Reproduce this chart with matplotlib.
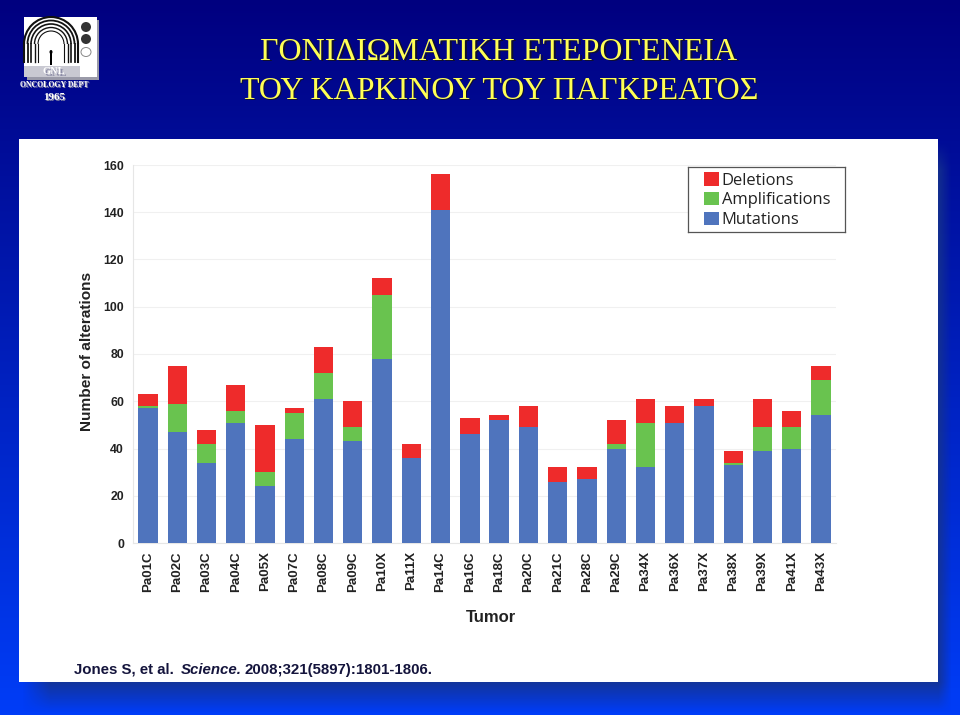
import numpy as np
import matplotlib
matplotlib.use('Agg')
from matplotlib import pyplot as plt
from matplotlib.patches import Rectangle, Arc, Ellipse

tumors = ['Pa01C', 'Pa02C', 'Pa03C', 'Pa04C', 'Pa05X', 'Pa07C', 'Pa08C', 'Pa09C',
          'Pa10X', 'Pa11X', 'Pa14C', 'Pa16C', 'Pa18C', 'Pa20C', 'Pa21C', 'Pa28C',
          'Pa29C', 'Pa34X', 'Pa36X', 'Pa37X', 'Pa38X', 'Pa39X', 'Pa41X', 'Pa43X']
mutations = [57, 47, 34, 51, 24, 44, 61, 43, 78, 36, 141, 46, 52, 49, 26, 27, 40, 32, 51, 58, 33, 39, 40, 54]
amplifications = [1, 12, 8, 5, 6, 11, 11, 6, 27, 0, 0, 0, 0, 0, 0, 0, 2, 19, 0, 0, 1, 10, 9, 15]
deletions = [5, 16, 6, 11, 20, 2, 11, 11, 7, 6, 15, 7, 2, 9, 6, 5, 10, 10, 7, 3, 5, 12, 7, 6]
y_ticks = [0, 20, 40, 60, 80, 100, 120, 140, 160]
title_lines = ['ΓΟΝΙΔΙΩΜΑΤΙΚΗ ΕΤΕΡΟΓΕΝΕΙΑ', 'ΤΟΥ ΚΑΡΚΙΝΟΥ ΤΟΥ ΠΑΓΚΡΕΑΤΟΣ']

W, H = 960, 715
SANS = 'Liberation Sans'
SERIF = 'Liberation Serif'
INK = '#14143c'


def px_axes(fig, left, top, right, bottom, **kw):
    # axes from pixel edges, y counted from the top of the picture
    return fig.add_axes([left / W, 1 - bottom / H, (right - left) / W, (bottom - top) / H], **kw)


fig = plt.figure(figsize=(9.6, 7.15), dpi=100)

# blue slide background
bg = fig.add_axes([0, 0, 1, 1], zorder=0)
bg.set_axis_off()
ramp = np.linspace(0, 1, 256)[:, None]
rgb = np.dstack([0 * ramp, 0.0 + 0.24 * ramp, 0.5 + 0.47 * ramp])
bg.imshow(rgb, aspect='auto', extent=[0, W, H, 0])

# soft shadow right of and under the white panel
sx = np.arange(19, 952)
sy = np.arange(139, 714)
fade_x = np.clip(1 - (sx - 938) / 13, 0, 1) * np.clip((sx - 22) / 28, 0, 1)
fade_y = np.clip(1 - (sy - 682) / 30, 0, 1) * np.clip((sy - 142) / 28, 0, 1)
shadow = np.zeros((len(sy), len(sx), 4))
shadow[..., 0] = 0.09
shadow[..., 1] = 0.2
shadow[..., 2] = 0.55
shadow[..., 3] = 0.85 * fade_y[:, None] * fade_x[None, :]
bg.imshow(shadow, aspect='auto', extent=[19, 952, 714, 139], zorder=1)
bg.set_xlim(0, W)
bg.set_ylim(H, 0)

bg.add_patch(Rectangle((19, 139), 919, 543, fc='white', ec='none', zorder=3))

# titles, yellow with a dark drop shadow
for line, yy in zip(title_lines, [60, 99]):
    bg.text(500.2, yy + 1.2, line, family=SERIF, fontsize=23, color='#101030', ha='center', va='baseline', zorder=4)
    bg.text(499, yy, line, family=SERIF, fontsize=23, color='#ffff55', ha='center', va='baseline', zorder=5)

# logo
bg.add_patch(Rectangle((27, 20), 72, 60, fc='#9a9aa8', ec='none', zorder=4))
bg.add_patch(Rectangle((24, 17), 73, 60, fc='white', ec='none', zorder=5))
for r, lw in zip([27, 23.5, 20, 16.5, 13], [1.5, 1.3, 1.2, 1.0, 0.8]):
    bg.add_patch(Arc((51, 44), 2 * r, 2 * r, theta1=180, theta2=360, color='#111111', lw=lw, zorder=6))
    bg.plot([51 - r, 51 - r], [44, 62], color='#111111', lw=lw, zorder=6)
    bg.plot([51 + r, 51 + r], [44, 62], color='#111111', lw=lw, zorder=6)
bg.add_patch(Rectangle((24, 66), 56, 11, fc='#c9c9d2', ec='none', zorder=7))
bg.add_patch(Ellipse((51, 52), 3, 4, fc='black', zorder=8))
bg.add_patch(Rectangle((49.8, 53), 2.4, 12, fc='black', ec='none', zorder=8))
for yy in [27, 39]:
    bg.add_patch(Ellipse((86, yy), 10, 10, fc='#333333', ec='none', zorder=6))
bg.add_patch(Ellipse((86, 52), 10, 9, fc='white', ec='#888888', lw=0.7, zorder=6))
for txt, yy, fs in [('GNL', 72, 7.5), ('ONCOLOGY DEPT', 85, 5.6), ('1965', 97, 8)]:
    bg.text(55.5, yy + 1.5, txt, family=SERIF, fontweight='bold', fontsize=fs,
            color='#8e8ea8', ha='center', va='center', zorder=9)
    bg.text(54, yy, txt, family=SERIF, fontweight='bold', fontsize=fs,
            color='white', ha='center', va='center', zorder=10)

# the chart
ax = px_axes(fig, 133, 165, 836, 543, zorder=2)
ax.set_facecolor('none')
x = np.arange(len(tumors))
mut = np.array(mutations)
amp = np.array(amplifications)
dele = np.array(deletions)
w = 0.66
ax.bar(x, mut, w, color='#4f74bd', label='Mutations', zorder=3)
ax.bar(x, amp, w, bottom=mut, color='#69c34f', label='Amplifications', zorder=3)
ax.bar(x, dele, w, bottom=mut + amp, color='#ee2b2b', label='Deletions', zorder=3)
ax.set_xlim(-0.51, 23.51)
ax.set_ylim(0, 160)
ax.set_yticks(y_ticks)
ax.set_yticklabels(y_ticks, family=SANS, fontweight='bold', fontsize=8.8, color='#222222')
ax.set_xticks(x)
ax.set_xticklabels(tumors, rotation=90, family=SANS, fontweight='bold', fontsize=9.5, color='#222222')
ax.tick_params(axis='both', length=0)
ax.tick_params(axis='x', pad=6)
ax.tick_params(axis='y', pad=6.5)
ax.grid(axis='y', color='#f0f0f0', lw=0.8, zorder=0)
for side in ['top', 'right']:
    ax.spines[side].set_visible(False)
for side in ['bottom', 'left']:
    ax.spines[side].set_color('#e6e6e6')
ax.set_axisbelow(True)

fig.text(87 / W, 1 - 351 / H, 'Number of alterations', rotation=90, family=SANS, fontweight='bold',
         fontsize=11.1, color='#222222', ha='center', va='center', zorder=5)
fig.text(491 / W, 1 - 617 / H, 'Tumor', family=SANS, fontweight='bold',
         fontsize=12, color='#222222', ha='center', va='center', zorder=5)

# citation, journal name in italics
for px, txt, style in [(74, 'Jones S, et al.', 'normal'), (181, 'Science.', 'italic'),
                       (245, '2008;321(5897):1801-1806.', 'normal')]:
    fig.text(px / W, 1 - 674 / H, txt, family=SANS, fontweight='bold', fontstyle=style, fontsize=10.8,
             color=INK, ha='left', va='baseline', zorder=5)

# legend, deletions on top, frame drawn by hand so it keeps the reference size
handles, labels = ax.get_legend_handles_labels()
leg_ax = px_axes(fig, 688, 167, 845, 232, zorder=6)
leg_ax.set_xticks([])
leg_ax.set_yticks([])
for s in leg_ax.spines.values():
    s.set_color('#555555')
    s.set_linewidth(0.9)
leg_ax.legend(handles[::-1], labels[::-1], loc='center left', bbox_to_anchor=(0.105, 0.49), frameon=False,
              handlelength=0.85, handleheight=0.85, handletextpad=0.2, labelspacing=0.2, borderpad=0,
              borderaxespad=0, prop={'family': 'Open Sans', 'size': 11.9}, labelcolor='#222222')

fig.savefig('out.png', dpi=100)
